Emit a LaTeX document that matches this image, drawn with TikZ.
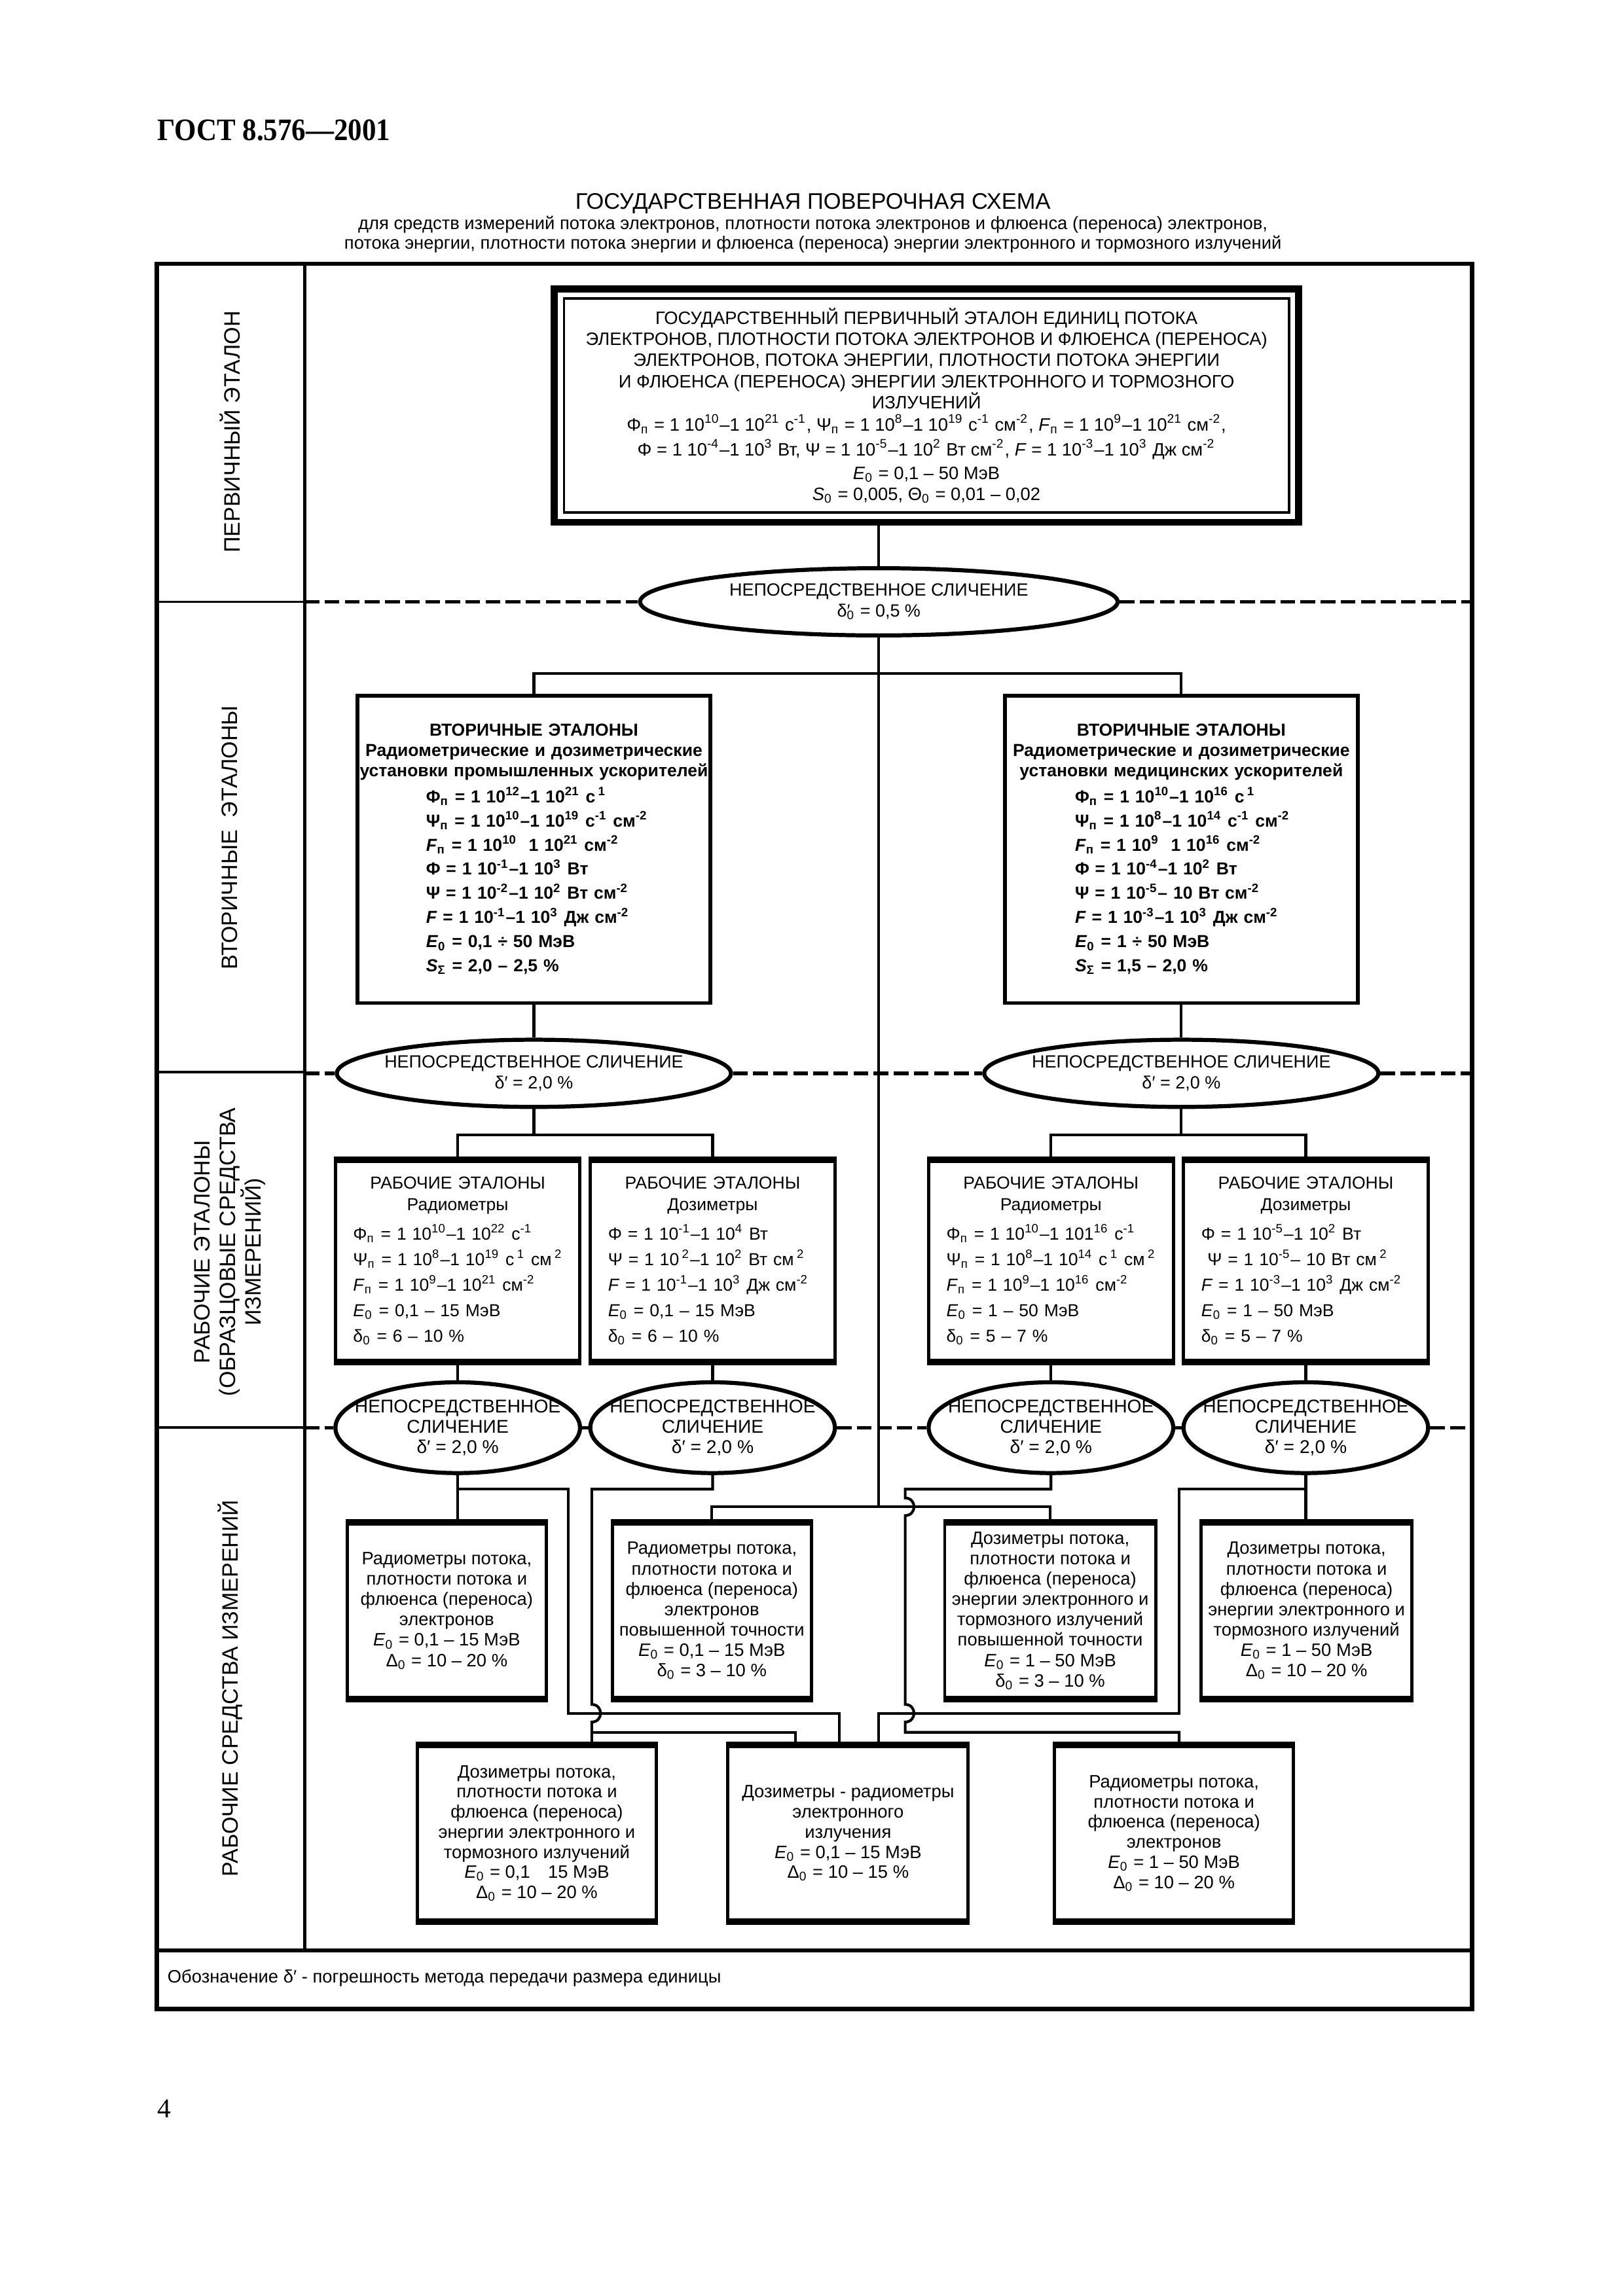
\documentclass[tikz,border=0pt]{standalone}
\usepackage{fontspec}
\setmainfont{Liberation Sans}
\newfontfamily\gostfont{Liberation Serif}[FakeStretch=0.9]
\newfontfamily\pagefont{Liberation Serif}
\usetikzlibrary{shapes.geometric,calc,fit}
\setlength{\parindent}{0pt}
\newcommand{\fsz}[2]{\fontsize{#1}{#2}\selectfont\lineskiplimit=-10pt\relax}
\newcommand{\hi}[1]{\textsuperscript{#1}}
\newcommand{\lo}[1]{\textsubscript{#1}}
\newcommand{\ei}{\textit{E}\lo{0}}
\newcommand{\fn}{\textit{F}\lo{п}}

\begin{document}
\begin{tikzpicture}[x=0.18953mm,y=-0.18953mm,
  con/.style={line width=1pt},
  sep/.style={line width=1.3pt,dash pattern=on 1.9mm off 0.7mm},
  frame/.style={line width=1.5pt},
  lbl/.style={rotate=90,align=center,font=\fsz{8.2}{9.4}},
  prim/.style={draw,line width=0.9pt,minimum width=93.8mm,minimum height=27.7mm,
               inner sep=0pt,align=center,font=\fsz{6.6}{7.8}},
  sbox/.style={draw,line width=1.4pt,minimum height=39.8mm,text width=45.7mm,
               inner sep=0pt,font=\bfseries\fsz{6.4}{7.4}},
  cmp/.style={draw,ellipse,line width=1.5pt,inner sep=0pt},
  ctxt/.style={align=center,inner sep=0pt,font=\fsz{6.5}{7.6}},
  ctxs/.style={align=center,inner sep=0pt,font=\fsz{6.8}{7.5}},
  wbox/.style={draw,line width=1.2pt,minimum height=25.8mm,text width=31.65mm,
               inner sep=0pt,font=\fsz{6.4}{7.9}},
  ibox/.style={draw,line width=1.2pt,minimum height=22.4mm,inner sep=0pt,
               align=center,font=\fsz{6.6}{7.5}}]
\useasboundingbox (0,0) rectangle (1108,1568);
\fill[white] (0,0) rectangle (1108,1568);

% header
\node[anchor=west,inner sep=0pt,font=\gostfont\bfseries\fontsize{11.5}{13}\selectfont] (gost) at (107,89) {ГОСТ 8.576—2001};
\node[font=\fsz{8.3}{10}] (title) at (555,139) {ГОСУДАРСТВЕННАЯ ПОВЕРОЧНАЯ СХЕМА};
\node[align=center,font=\fsz{6.6}{7.1}] (sub) at (555,160) {для средств измерений потока электронов, плотности потока электронов и флюенса (переноса) электронов,\\потока энергии, плотности потока энергии и флюенса (переноса) энергии электронного и тормозного излучений};

% frame of the table
\draw[frame] (107,180) rectangle (1005,1372);
\draw[frame] (107,1332) -- (1005,1332);
\draw[line width=1.1pt] (208,180) -- (208,1332);
\draw[line width=0.9pt] (107,411) -- (208,411) (107,732) -- (208,732) (107,975) -- (208,975);
\coordinate (colx) at (208,0);
\coordinate (rgt) at (1005,0);

\node[lbl] (l1) at (157,295) {ПЕРВИЧНЫЙ ЭТАЛОН};
\node[lbl] (l2) at (157,572) {ВТОРИЧНЫЕ\ \ ЭТАЛОНЫ};
\node[lbl] (l3) at (157,855) {РАБОЧИЕ ЭТАЛОНЫ\\(ОБРАЗЦОВЫЕ СРЕДСТВА\\ИЗМЕРЕНИЙ)};
\node[lbl] (l4) at (157,1153) {РАБОЧИЕ СРЕДСТВА ИЗМЕРЕНИЙ};

% primary standard
\node[prim] (pri) at (632.5,277) {ГОСУДАРСТВЕННЫЙ ПЕРВИЧНЫЙ ЭТАЛОН ЕДИНИЦ ПОТОКА\\
ЭЛЕКТРОНОВ, ПЛОТНОСТИ ПОТОКА ЭЛЕКТРОНОВ И ФЛЮЕНСА (ПЕРЕНОСА)\\
ЭЛЕКТРОНОВ, ПОТОКА ЭНЕРГИИ, ПЛОТНОСТИ ПОТОКА ЭНЕРГИИ\\
И ФЛЮЕНСА (ПЕРЕНОСА) ЭНЕРГИИ ЭЛЕКТРОННОГО И ТОРМОЗНОГО\\
ИЗЛУЧЕНИЙ\\[0.4pt]
Φ\lo{п} = 1 10\hi{10}–1 10\hi{21} с\hi{-1}, Ψ\lo{п} = 1 10\hi{8}–1 10\hi{19} с\hi{-1} см\hi{-2}, \fn{} = 1 10\hi{9}–1 10\hi{21} см\hi{-2},\\[1.4pt]
Φ = 1 10\hi{-4}–1 10\hi{3} Вт, Ψ = 1 10\hi{-5}–1 10\hi{2} Вт см\hi{-2}, \textit{F} = 1 10\hi{-3}–1 10\hi{3} Дж см\hi{-2}\\[0.8pt]
\ei{} = 0,1 – 50 МэВ\\
\textit{S}\lo{0} = 0,005, Θ\lo{0} = 0,01 – 0,02};
\node[draw,line width=2.6pt,fit=(pri),inner sep=1.1mm] (prio) {};

\node[cmp,minimum width=61.8mm,minimum height=8.7mm,
  label={[ctxt]center:{НЕПОСРЕДСТВЕННОЕ СЛИЧЕНИЕ\\δ\rlap{′}\lo{0} = 0,5 \%}}] (e1) at (600,411) {};

% secondary standards
\node[sbox] (sl) at (364.5,580) {{\centering ВТОРИЧНЫЕ ЭТАЛОНЫ\\Радиометрические и дозиметрические\\установки промышленных ускорителей\par}
\vspace{2.2pt}\leftskip=8.9mm
Φ\lo{п} = 1 10\hi{12}–1 10\hi{21} с\,\hi{1}\\[1.5pt]
Ψ\lo{п} = 1 10\hi{10}–1 10\hi{19} с\hi{-1} см\hi{-2}\\[1.5pt]
\fn{} = 1 10\hi{10}\ \ 1 10\hi{21} см\hi{-2}\\[1.5pt]
Φ = 1 10\hi{-1}–1 10\hi{3} Вт\\[1.5pt]
Ψ = 1 10\hi{-2}–1 10\hi{2} Вт см\hi{-2}\\[1.5pt]
\textit{F} = 1 10\hi{-1}–1 10\hi{3} Дж см\hi{-2}\\[1.5pt]
\ei{} = 0,1 ÷ 50 МэВ\\[1.5pt]
\textit{S}\lo{Σ} = 2,0 – 2,5 \%\par};
\node[sbox] (sr) at (806.5,580) {{\centering ВТОРИЧНЫЕ ЭТАЛОНЫ\\Радиометрические и дозиметрические\\установки медицинских ускорителей\par}
\vspace{2.2pt}\leftskip=9.1mm
Φ\lo{п} = 1 10\hi{10}–1 10\hi{16} с\,\hi{1}\\[1.5pt]
Ψ\lo{п} = 1 10\hi{8}–1 10\hi{14} с\hi{-1} см\hi{-2}\\[1.5pt]
\fn{} = 1 10\hi{9}\ \ 1 10\hi{16} см\hi{-2}\\[1.5pt]
Φ = 1 10\hi{-4}–1 10\hi{2} Вт\\[1.5pt]
Ψ = 1 10\hi{-5}– 10 Вт см\hi{-2}\\[1.5pt]
\textit{F} = 1 10\hi{-3}–1 10\hi{3} Дж см\hi{-2}\\[1.5pt]
\ei{} = 1 ÷ 50 МэВ\\[1.5pt]
\textit{S}\lo{Σ} = 1,5 – 2,0 \%\par};

\node[cmp,minimum width=51mm,minimum height=8.7mm,
  label={[ctxt]center:{НЕПОСРЕДСТВЕННОЕ СЛИЧЕНИЕ\\δ′ = 2,0 \%}}] (e2l) at (364.5,733) {};
\node[cmp,minimum width=51mm,minimum height=8.7mm,
  label={[ctxt]center:{НЕПОСРЕДСТВЕННОЕ СЛИЧЕНИЕ\\δ′ = 2,0 \%}}] (e2r) at (806.5,733) {};

% working standards
\node[wbox] (w1) at (312.5,861) {{\centering РАБОЧИЕ ЭТАЛОНЫ\\Радиометры\par}
\vspace{2.9pt}\leftskip=2.3mm
Φ\lo{п} = 1 10\hi{10}–1 10\hi{22} с\hi{-1}\\[1.5pt]
Ψ\lo{п} = 1 10\hi{8}–1 10\hi{19} с\,\hi{1} см\,\hi{2}\\[1.5pt]
\fn{} = 1 10\hi{9}–1 10\hi{21} см\hi{-2}\\[1.5pt]
\ei{} = 0,1 – 15 МэВ\\[1.5pt]
δ\lo{0} = 6 – 10 \%\par};
\node[wbox] (w2) at (486.5,861) {{\centering РАБОЧИЕ ЭТАЛОНЫ\\Дозиметры\par}
\vspace{2.9pt}\leftskip=2.3mm
Φ = 1 10\hi{-1}–1 10\hi{4} Вт\\[1.5pt]
Ψ = 1 10\,\hi{2}–1 10\hi{2} Вт см\,\hi{2}\\[1.5pt]
\textit{F} = 1 10\hi{-1}–1 10\hi{3} Дж см\hi{-2}\\[1.5pt]
\ei{} = 0,1 – 15 МэВ\\[1.5pt]
δ\lo{0} = 6 – 10 \%\par};
\node[wbox] (w3) at (717.5,861) {{\centering РАБОЧИЕ ЭТАЛОНЫ\\Радиометры\par}
\vspace{2.9pt}\leftskip=2.3mm
Φ\lo{п} = 1 10\hi{10}–1 101\hi{16} с\hi{-1}\\[1.5pt]
Ψ\lo{п} = 1 10\hi{8}–1 10\hi{14} с\,\hi{1} см\,\hi{2}\\[1.5pt]
\fn{} = 1 10\hi{9}–1 10\hi{16} см\hi{-2}\\[1.5pt]
\ei{} = 1 – 50 МэВ\\[1.5pt]
δ\lo{0} = 5 – 7 \%\par};
\node[wbox] (w4) at (891.5,861) {{\centering РАБОЧИЕ ЭТАЛОНЫ\\Дозиметры\par}
\vspace{2.9pt}\leftskip=2.3mm
Φ = 1 10\hi{-5}–1 10\hi{2} Вт\\[1.5pt]
\hspace*{0.8mm}Ψ = 1 10\hi{-5}– 10 Вт см\,\hi{2}\\[1.5pt]
\textit{F} = 1 10\hi{-3}–1 10\hi{3} Дж см\hi{-2}\\[1.5pt]
\ei{} = 1 – 50 МэВ\\[1.5pt]
δ\lo{0} = 5 – 7 \%\par};

\node[cmp,minimum width=31.65mm,minimum height=11.75mm,
  label={[ctxs]center:{НЕПОСРЕДСТВЕННОЕ\\СЛИЧЕНИЕ\\δ′ = 2,0 \%}}] (e3a) at (312.5,975) {};
\node[cmp,minimum width=31.65mm,minimum height=11.75mm,
  label={[ctxs]center:{НЕПОСРЕДСТВЕННОЕ\\СЛИЧЕНИЕ\\δ′ = 2,0 \%}}] (e3b) at (486.5,975) {};
\node[cmp,minimum width=31.65mm,minimum height=11.75mm,
  label={[ctxs]center:{НЕПОСРЕДСТВЕННОЕ\\СЛИЧЕНИЕ\\δ′ = 2,0 \%}}] (e3c) at (717.5,975) {};
\node[cmp,minimum width=31.65mm,minimum height=11.75mm,
  label={[ctxs]center:{НЕПОСРЕДСТВЕННОЕ\\СЛИЧЕНИЕ\\δ′ = 2,0 \%}}] (e3d) at (891.5,975) {};

% working measuring instruments
\node[ibox,minimum width=25.8mm] (r1) at (305,1100) {Радиометры потока,\\плотности потока и\\флюенса (переноса)\\электронов\\\ei{} = 0,1 – 15 МэВ\\Δ\lo{0} = 10 – 20 \%};
\node[ibox,minimum width=25.8mm] (r2) at (486,1100) {Радиометры потока,\\плотности потока и\\флюенса (переноса)\\электронов\\повышенной точности\\\ei{} = 0,1 – 15 МэВ\\δ\lo{0} = 3 – 10 \%};
\node[ibox,minimum width=27.3mm] (r3) at (717,1100) {Дозиметры потока,\\плотности потока и\\флюенса (переноса)\\энергии электронного и\\тормозного излучений\\повышенной точности\\\ei{} = 1 – 50 МэВ\\δ\lo{0} = 3 – 10 \%};
\node[ibox,minimum width=27.3mm] (r4) at (892,1100) {Дозиметры потока,\\плотности потока и\\флюенса (переноса)\\энергии электронного и\\тормозного излучений\\\ei{} = 1 – 50 МэВ\\Δ\lo{0} = 10 – 20 \%};

\node[ibox,minimum width=30.9mm,font=\fsz{6.6}{7.4}] (b1) at (366.5,1252) {Дозиметры потока,\\плотности потока и\\флюенса (переноса)\\энергии электронного и\\тормозного излучений\\\ei{} = 0,1\quad 15 МэВ\\Δ\lo{0} = 10 – 20 \%};
\node[ibox,minimum width=31.1mm,font=\fsz{6.6}{7.4}] (b2) at (579,1252) {Дозиметры - радиометры\\электронного\\излучения\\\ei{} = 0,1 – 15 МэВ\\Δ\lo{0} = 10 – 15 \%};
\node[ibox,minimum width=30.9mm,font=\fsz{6.6}{7.4}] (b3) at (801.5,1252) {Радиометры потока,\\плотности потока и\\флюенса (переноса)\\электронов\\\ei{} = 1 – 50 МэВ\\Δ\lo{0} = 10 – 20 \%};

\foreach \b in {w1,w2,w3,w4,r1,r2,r3,r4,b1,b2,b3}
  \draw[line width=2.4pt] (\b.north west) -- (\b.north east) (\b.south west) -- (\b.south east);

% dashed borders of the levels
\draw[sep] (colx |- e1.west) -- (e1.west) (e1.east) -- (rgt |- e1.east);
\draw[sep] (colx |- e2l.west) -- (e2l.west) (e2l.east) -- (e2r.west) (e2r.east) -- (rgt |- e2r.east);
\draw[sep] (colx |- e3a.west) -- (e3a.west) (e3a.east) -- (e3b.west) (e3b.east) -- (e3c.west)
  (e3c.east) -- (e3d.west) (e3d.east) -- (rgt |- e3d.east);

% connectors
\coordinate (ys) at (0,460);
\coordinate (yw) at (0,775);
\coordinate (ya) at (0,1017);
\coordinate (yb) at (0,1029);
\coordinate (yc) at (0,1170);
\coordinate (yd) at (0,1183);
\coordinate (xa) at (388,0);
\coordinate (xb) at (404,0);
\coordinate (xe) at (543,0);
\coordinate (xf) at (573,0);
\coordinate (xg) at (600,0);
\coordinate (xc) at (618,0);
\coordinate (xd) at (805,0);

\draw[con] (prio.south -| e1.north) -- (e1.north);
\draw[con] (e1.south) -- (e1.south |- yb);
\draw[con] (sl.north) |- (sr.north |- ys) -- (sr.north);
\draw[con] (sl) -- (e2l);
\draw[con] (sr) -- (e2r);
\draw[con] (e2l.south) -- (e2l.south |- yw);
\draw[con] (w1.north) |- (w2.north |- yw) -- (w2.north);
\draw[con] (e2r.south) -- (e2r.south |- yw);
\draw[con] (w3.north) |- (w4.north |- yw) -- (w4.north);
\foreach \a/\b in {w1/e3a,w2/e3b,w3/e3c,w4/e3d}
  \draw[con] (\a) -- (\b);

\draw[con] (r2.north) |- (r3.north |- yb) -- (r3.north);
\draw[con] (e3a.south) -- (e3a.south |- r1.north);
\draw[con] (e3a.south |- ya) -| (xa |- yc) -| (xf |- b2.north);
\draw[con] (e3b.south) |- (xb |- ya) -- ($(xb |- yc)+(0,-6)$) .. controls +(8,0) and +(8,0) .. ($(xb |- yc)+(0,6)$) -- (xb |- b1.north);
\draw[con] (xb |- yd) -| (xe |- b2.north);
\draw[con] (e3c.south) |- (xc |- ya) -- ($(xc |- yb)+(0,-6)$) .. controls +(8,0) and +(8,0) .. ($(xc |- yb)+(0,6)$)
  -- ($(xc |- yc)+(0,-6)$) .. controls +(8,0) and +(8,0) .. ($(xc |- yc)+(0,6)$) -- (xc |- yd) -| (xd |- b3.north);
\draw[con] (e3d.south) -- (e3d.south |- r4.north);
\draw[con] (e3d.south |- ya) -| (xd |- yc) -| (xg |- b2.north);

% note and page number
\node[anchor=west,inner sep=0pt,font=\fsz{6.6}{8}] (note) at (114,1351) {Обозначение δ′ - погрешность метода передачи размера единицы};
\node[anchor=west,inner sep=0pt,font=\pagefont\fontsize{10}{12}\selectfont] (pg) at (107,1440) {4};
\end{tikzpicture}
\end{document}
